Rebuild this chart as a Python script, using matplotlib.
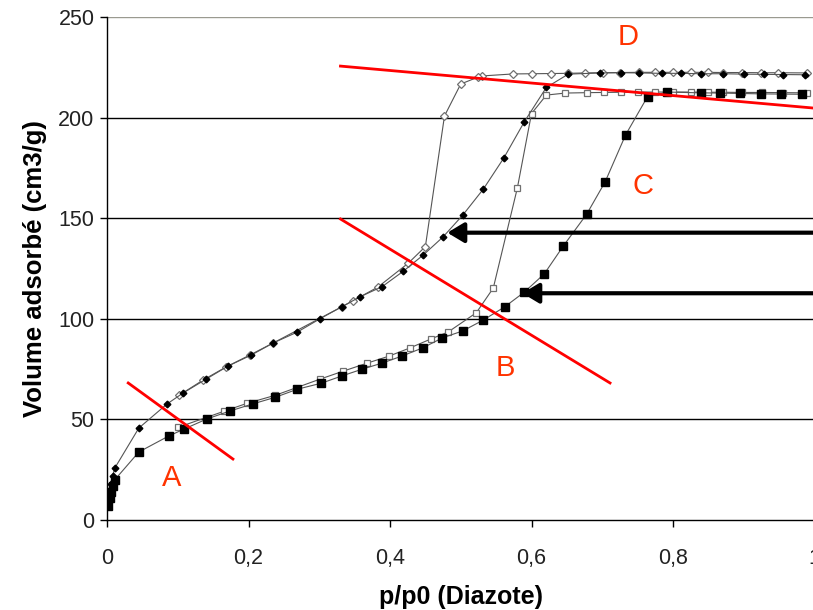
import matplotlib
matplotlib.use("Agg")
import matplotlib.pyplot as plt
from matplotlib.patches import FancyArrowPatch

plt.rcParams.update({
    "font.family": ["Liberation Sans", "DejaVu Sans"],
    "font.size": 12,
})
RED = "#FF0000"; LETTER = "#FF3300"; LINE = "#555555"

# ---- isotherm data : p/p0 vs adsorbed volume (cm3/g) ----
# sample 1, adsorption (small filled diamonds)
s1_ads_x = [0.001, 0.003, 0.005, 0.008, 0.011, 0.045, 0.085, 0.107, 0.140, 0.171,
            0.204, 0.235, 0.269, 0.301, 0.332, 0.358, 0.389, 0.419, 0.447, 0.475,
            0.503, 0.532, 0.561, 0.590, 0.621, 0.652, 0.697, 0.726, 0.752, 0.784,
            0.812, 0.840, 0.871, 0.900, 0.928, 0.956, 0.986]
s1_ads_y = [9, 14, 18, 22, 25.8, 45.7, 57.7, 63, 70, 76.5,
            82, 88, 93.4, 100, 106, 111, 116, 123.7, 131.7, 140.7,
            151.6, 164.5, 180, 198, 215, 221.6, 222.2, 222.3, 222.2, 222,
            222, 221.8, 221.8, 221.6, 221.5, 221.4, 221.3]
# sample 1, desorption (open diamonds)
s1_des_x = [0.989, 0.948, 0.924, 0.898, 0.871, 0.849, 0.825, 0.800, 0.775, 0.752,
            0.725, 0.701, 0.676, 0.651, 0.628, 0.601, 0.574, 0.530, 0.525, 0.500,
            0.477, 0.450, 0.426, 0.383, 0.348, 0.332, 0.235, 0.202, 0.168, 0.136,
            0.102]
s1_des_y = [222.2, 222.3, 222.3, 222.4, 222.4, 222.5, 222.5, 222.5, 222.5, 222.5,
            222.4, 222.3, 222.2, 222, 221.9, 221.8, 221.7, 220.7, 220.2, 216.7,
            200.8, 135.9, 127.7, 115.8, 109, 106, 88, 82, 76, 69.6,
            62]
# sample 2, adsorption (large filled squares)
s2_ads_x = [0.002, 0.004, 0.006, 0.008, 0.011, 0.045, 0.087, 0.109, 0.141, 0.174,
            0.206, 0.238, 0.269, 0.303, 0.332, 0.361, 0.389, 0.417, 0.446, 0.474,
            0.503, 0.532, 0.562, 0.590, 0.618, 0.645, 0.678, 0.704, 0.733, 0.764,
            0.792, 0.839, 0.867, 0.895, 0.924, 0.952, 0.982]
s2_ads_y = [7, 11, 14, 17, 20, 33.8, 41.7, 45.2, 50.2, 54.2,
            57.7, 61, 65, 68, 71.6, 75, 78, 81.5, 85.5, 90.5,
            94, 99.4, 105.9, 113.3, 122.3, 136.2, 152, 168, 191.4, 210.4,
            212.7, 212.3, 212.2, 212, 211.8, 211.7, 211.6]
# sample 2, desorption (small open squares)
s2_des_x = [0.989, 0.956, 0.926, 0.898, 0.871, 0.849, 0.825, 0.800, 0.775, 0.751,
            0.726, 0.702, 0.679, 0.648, 0.621, 0.600, 0.580, 0.546, 0.522, 0.482,
            0.458, 0.428, 0.399, 0.368, 0.334, 0.301, 0.238, 0.198, 0.165, 0.100]
s2_des_y = [212.3, 212.4, 212.5, 212.5, 212.6, 212.6, 212.7, 212.7, 212.7, 212.7,
            212.6, 212.5, 212.4, 212.2, 211.2, 202, 165, 115.3, 103, 93.4,
            90, 85.5, 81.5, 78, 74, 70, 62, 58, 54, 46]

# ---- annotations ----
red_lines = {  # (x0, y0, x1, y1)
    "A": (0.030, 68.1, 0.178, 30.3),
    "B": (0.330, 149.6, 0.711, 68.1),
    "D": (0.330, 225.6, 1.000, 204.7),
}
letters = ["A", "B", "C", "D"]
letter_x = [0.092, 0.563, 0.758, 0.736]
letter_y = [21, 75.5, 166, 240]
arrow_tip_x = [0.481, 0.587]
arrow_y = [142.8, 112.7]

y_ticks = [0, 50, 100, 150, 200, 250]
x_ticks = [0, 0.2, 0.4, 0.6, 0.8, 1.0]
x_ticklabels = ["0", "0,2", "0,4", "0,6", "0,8", "1"]

fig = plt.figure(figsize=(8.13, 6.10), dpi=100)
ax = fig.add_axes([107/813, 90/610, 707.5/813, 503/610])

# horizontal grid
for v in y_ticks[1:]:
    ax.axhline(v, color="#9a9a90" if v == 250 else "black", lw=1.0, zorder=1)

ax.plot(s1_ads_x, s1_ads_y, color=LINE, lw=0.8, marker="D", ms=3.4,
        mfc="black", mec="black", zorder=4)
ax.plot(s1_des_x, s1_des_y, color=LINE, lw=0.8, marker="D", ms=4.4,
        mfc="white", mec="#707070", mew=0.9, zorder=3)
ax.plot(s2_ads_x, s2_ads_y, color=LINE, lw=0.8, marker="s", ms=6.3,
        mfc="black", mec="black", zorder=4)
ax.plot(s2_des_x, s2_des_y, color=LINE, lw=0.8, marker="s", ms=4.2,
        mfc="white", mec="#707070", mew=0.9, zorder=3)

for k, (x0, y0, x1, y1) in red_lines.items():
    ax.plot([x0, x1], [y0, y1], color=RED, lw=2.0, zorder=6, clip_on=False)

for t, x, y in zip(letters, letter_x, letter_y):
    ax.text(x, y, t, color=LETTER, fontsize=21, ha="center", va="center", zorder=7)

for tx, y in zip(arrow_tip_x, arrow_y):
    ar = FancyArrowPatch((1.05, y), (tx, y), arrowstyle="-|>,head_length=10,head_width=6",
                         mutation_scale=1, color="black", lw=3.0, zorder=8,
                         shrinkA=0, shrinkB=0)
    ax.add_patch(ar)

ax.set_xlim(0, 1.0)
ax.set_ylim(0, 250)
ax.set_xticks(x_ticks)
ax.set_xticklabels(x_ticklabels)
ax.set_yticks(y_ticks)
ax.tick_params(axis="both", direction="out", length=5, width=1, labelsize=15.5,
               labelcolor="#222222", pad=4)
ax.tick_params(axis="x", pad=15)
for s in ("top", "right"):
    ax.spines[s].set_visible(False)
for s in ("left", "bottom"):
    ax.spines[s].set_linewidth(1.0)
ax.set_xlabel("p/p0 (Diazote)", fontsize=18, fontweight="bold", labelpad=12)
ax.set_ylabel("Volume adsorbé (cm3/g)", fontsize=18.5, fontweight="bold", labelpad=8)

fig.savefig("out.png", dpi=100)
